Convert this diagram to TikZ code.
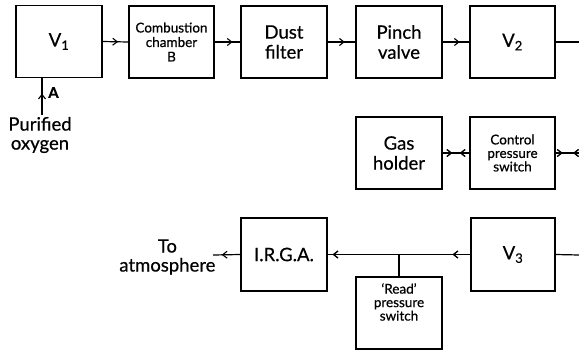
\documentclass[tikz,border=0pt]{standalone}
\usepackage{fontspec}
\setmainfont{Lato}[FakeBold=0.5]
\usetikzlibrary{arrows.meta,decorations.markings}
\begin{document}
\begin{tikzpicture}[x=1pt,y=-1pt,line width=1.2pt,
  box/.style={draw,minimum width=86pt,minimum height=72pt,inner sep=0pt,align=center,
    font=\fontsize{18.5}{20}\selectfont},
  smallbox/.style={box,font=\fontsize{13.5}{14.5}\selectfont},
  big/.style={align=center,inner sep=0pt,font=\fontsize{18.5}{19}\selectfont},
  small/.style={align=center,inner sep=0pt,font=\fontsize{13.5}{13.5}\selectfont},
  chev/.style={postaction={decorate},decoration={markings,
    mark=at position #1 with {\arrow{Straight Barb[length=4.5pt,width=7pt,line width=1.1pt]}}}},
  rchev/.style={postaction={decorate},decoration={markings,
    mark=at position #1 with {\arrowreversed{Straight Barb[length=4.5pt,width=7pt,line width=1.1pt]}}}},
]
\useasboundingbox (0,0) rectangle (579,354);
% top row
\node[box] (V1) at (59,41.5) {V\textsubscript{1}};
\node[smallbox,minimum width=85pt] (Comb) at (171.5,42) {Combustion\\chamber\\B};
\node[box] (Dust) at (284,42) {Dust\\filter};
\node[box] (Pinch) at (399,42) {Pinch\\valve};
\node[box,minimum width=85pt] (V2) at (512.5,42) {V\textsubscript{2}};
\coordinate (e1) at (579,42);
% middle row
\node[box] (Gas) at (399,153) {Gas\\holder};
\node[smallbox,minimum width=85pt,font=\fontsize{13.5}{13.5}\selectfont] (Ctrl) at (512.5,153) {Control\\pressure\\switch};
\coordinate (e2) at (579,153);
% bottom row
\node[box,minimum height=73pt] (IRGA) at (284,254.5) {I.R.G.A.};
\node[box,minimum width=84pt,minimum height=73pt] (V3) at (513,254.5) {\raisebox{-4pt}{V\textsubscript{3}}};
\node[smallbox] (Read) at (399,313) {};
\node[small] (ReadT) at (399,302) {‘Read’\\pressure\\switch};
\coordinate (e3) at (579,255);
\coordinate (atm) at (213,255);
\coordinate (tee) at (Read.north |- V3.west);
\coordinate (ox) at (42,115);
% texts
\node[big,anchor=east] (ToAtm) at (216,257) {To\\atmosphere};
\node[big] (Pur) at (40,135) {Purified\\oxygen};
\node[inner sep=0pt,font=\fontsize{15}{17}\selectfont\bfseries] (A) at (53.5,92.5) {A};
% connectors
\draw[chev=0.6] (V1.east) -- (Comb.west);
\draw[chev=0.7] (Comb.east) -- (Dust.west);
\draw[chev=0.62] (Dust.east) -- (Pinch.west);
\draw[chev=0.64] (Pinch.east) -- (V2.west);
\draw (V2.east) -- (e1);
\draw[chev=0.36,rchev=0.64] (Gas.east) -- (Ctrl.west);
\draw[chev=0.3,rchev=0.75] (Ctrl.east) -- (e2);
\draw[chev=0.125,chev=0.965] (V3.west) -- (IRGA.east);
\draw (e3) -- (V3.east);
\draw (Read.north) -- (tee);
\draw[chev=0.68] (IRGA.west) -- (atm);
\draw[chev=0.58] (ox) -- (ox |- V1.south);
\end{tikzpicture}
\end{document}
